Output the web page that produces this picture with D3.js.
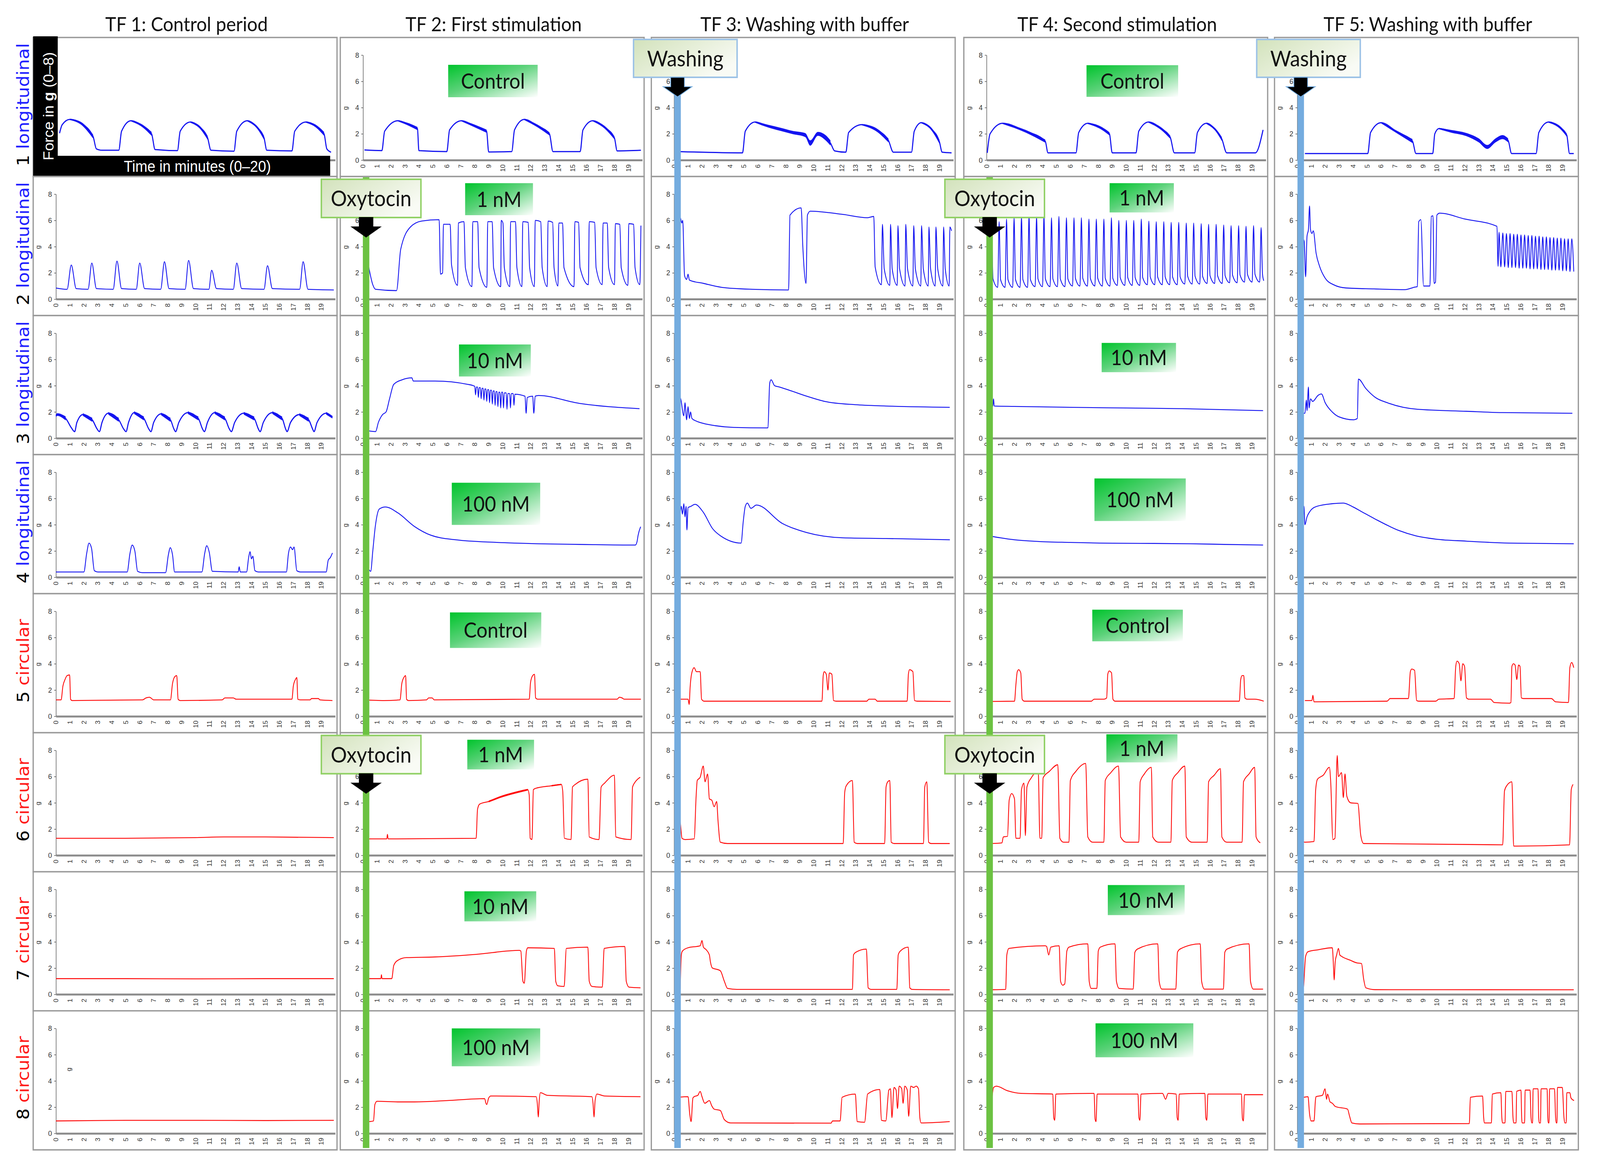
<!DOCTYPE html>
<html>
<head>
<meta charset="utf-8">
<script src="https://cdn.jsdelivr.net/npm/d3@7"></script>
<style>
  html, body { margin: 0; padding: 0; background: #fff; overflow: hidden; }
  .container { width: 100vw; height: 100vh; }
</style>
</head>
<body>
<div class="container"></div>
<script>
// ---- data ---------------------------------------------------------------
const columnTitles = ['TF 1: Control period', 'TF 2: First stimulation', 'TF 3: Washing with buffer',
  'TF 4: Second stimulation', 'TF 5: Washing with buffer']
const rowNumbers = ['1', '2', '3', '4', '5', '6', '7', '8']
const rowKinds = ['longitudinal', 'longitudinal', 'longitudinal', 'longitudinal',
  'circular', 'circular', 'circular', 'circular']
const doseLabels = ['Control', '1 nM', '10 nM', '100 nM', 'Control', '1 nM', '10 nM', '100 nM']
const yTicks = [0, 2, 4, 6, 8]
const xTicks = [0, 1, 2, 3, 4, 5, 6, 7, 8, 9, 10, 11, 12, 13, 14, 15, 16, 17, 18, 19]
// minute at which oxytocin is added (TF2, TF4) and washing starts (TF3, TF5)
const oxytocinTime = 0.22
const washingTime = 0.25

// traces: [minute, force in g, optional noise half-width]
const long1 = [
  [[0.26,2.05],[0.45,2.7],[1.0,3.1,0.05],[1.8,2.8,0.1],[2.66,1.8,0.15],[2.9,0.85],[3.3,0.75],[4.5,0.75],[4.7,2.2],[5.37,3.0,0.05],[6.2,2.6,0.1],[6.85,2.0,0.15],[7.1,0.8],[8.7,0.72],[8.9,2.2],[9.63,2.9,0.05],[10.3,2.5,0.1],[10.86,1.7,0.15],[11.1,0.75],[12.75,0.68],[12.95,2.2],[13.7,3.0,0.05],[14.4,2.5,0.1],[14.9,1.7,0.15],[15.1,0.75],[16.9,0.7],[17.1,2.2],[17.9,2.9,0.05],[18.6,2.6,0.1],[19.2,2.0,0.15],[19.4,0.85],[19.7,0.6]],
  [[0.1,0.77],[1.35,0.72],[1.55,2.2],[2.5,3.0,0.05],[3.3,2.7,0.1],[3.9,2.4,0.12],[4.0,0.72],[6.0,0.65],[6.2,2.3],[7.05,3.0,0.05],[8.0,2.6,0.1],[8.85,2.2,0.12],[9.0,0.62],[10.65,0.65],[10.85,2.3],[11.55,3.1,0.05],[12.5,2.6,0.1],[13.35,2.0,0.12],[13.6,0.65],[15.55,0.65],[15.75,2.3],[16.45,3.0,0.05],[17.3,2.5,0.1],[18.0,1.7,0.12],[18.2,0.7],[19.9,0.75]],
  [[0.36,0.65],[4.9,0.55],[5.1,2.2],[5.8,2.9,0.05],[6.7,2.6,0.1],[7.6,2.35,0.12],[8.5,2.1,0.12],[9.4,1.9,0.15],[9.75,1.3,0.2],[10.3,2.0,0.15],[10.85,1.7,0.2],[11.2,1.3,0.2],[11.5,0.7],[12.3,0.6],[12.5,2.1],[13.45,2.7,0.05],[14.5,2.3,0.12],[15.35,1.5,0.15],[15.7,0.6],[17.0,0.6],[17.2,2.2],[17.7,2.85,0.05],[18.4,2.4,0.1],[19.0,1.4,0.15],[19.2,0.6],[19.87,0.55]],
  [[0.05,0.55],[0.25,2.0],[1.15,2.8,0.05],[2.8,2.2,0.1],[4.2,1.45,0.12],[4.4,0.55],[6.4,0.55],[6.6,2.1],[7.25,2.8,0.05],[8.1,2.5,0.1],[8.8,2.0,0.12],[9.0,0.55],[10.7,0.55],[10.9,2.2],[11.6,2.9,0.05],[12.5,2.4,0.1],[13.15,1.75,0.12],[13.45,0.55],[14.9,0.55],[15.1,2.1],[15.75,2.8,0.05],[16.4,2.3,0.1],[16.85,1.6,0.15],[17.2,0.55],[19.25,0.55],[19.8,2.3]],
  [[0.55,0.5],[5.05,0.5],[5.25,2.1],[6.0,2.85,0.05],[7.2,2.1,0.1],[8.25,1.45,0.15],[8.5,0.5],[9.7,0.5],[9.85,2.0],[10.15,2.4,0.05],[11.0,2.2,0.1],[12.1,1.95,0.12],[13.0,1.5,0.15],[13.6,1.0,0.15],[14.2,1.5,0.15],[14.7,1.75,0.15],[15.1,1.5,0.15],[15.35,0.5],[17.1,0.5],[17.3,2.1],[18.0,2.9,0.05],[18.8,2.5,0.1],[19.3,1.9,0.12],[19.5,0.5],[19.8,0.5]]
]

const long2 = [
  [[0,0.85],[0.8,0.75],[1.1,2.6],[1.45,0.8],[2.3,0.75],[2.57,2.75],[2.9,0.8],[4.1,0.75],[4.37,2.9],[4.7,0.8],[5.75,0.75],[6.0,2.75],[6.35,0.8],[7.5,0.75],[7.77,2.85],[8.1,0.8],[9.25,0.75],[9.5,2.95],[9.85,0.8],[10.95,0.75],[11.15,2.2],[11.5,0.8],[12.7,0.75],[12.95,2.75],[13.3,0.8],[14.9,0.75],[15.15,2.55],[15.5,0.8],[17.45,0.75],[17.7,2.85],[18.05,0.75],[19.9,0.7]],
  [[0.4,2.5],[0.7,1.1],[0.9,0.75],[2.4,0.65],[2.7,3.8],[3.4,5.5],[4.2,5.95],[5.45,6.05],[5.55,1.9],
   [5.7,2.0],[5.76,5.7],[6.24,5.7],[6.34,2.6],[6.77,1.05],
   [6.83,5.8],[7.23,5.9],[7.33,2.4],[7.8,0.95],
   [7.86,5.9],[8.21,5.9],[8.31,2.4],[8.87,0.9],
   [8.93,5.9],[9.25,5.9],[9.35,2.4],[9.86,0.95],
   [9.9,6.0],[10.02,5.8],[10.12,2.4],[10.51,0.95],
   [10.57,5.9],[10.92,5.9],[11.02,2.4],[11.38,0.95],
   [11.44,5.9],[11.83,5.85],[11.93,2.4],[12.27,0.95],
   [12.33,6.0],[12.73,5.9],[12.83,2.4],[13.19,0.95],
   [13.25,5.95],[13.58,5.85],[13.68,2.4],[13.96,1.0],
   [14.02,5.8],[14.29,5.8],[14.39,2.4],[15.11,0.95],
   [15.17,5.9],[15.44,5.85],[15.54,2.4],[16.14,1.1],
   [16.2,5.9],[16.59,5.85],[16.69,2.4],[17.13,1.1],
   [17.19,5.8],[17.49,5.8],[17.59,2.4],[18.01,1.1],
   [18.07,5.75],[18.39,5.7],[18.49,2.4],[18.97,1.05],
   [19.03,5.75],[19.38,5.7],[19.48,2.4],[19.82,1.1],[19.9,5.6]],
  [[0.3,4.6],[0.45,6.2],[0.55,5.8],[0.62,6.0],[0.75,1.8],[0.9,1.5],[1.0,1.9],[1.1,1.45],[2.1,1.2],[3.4,0.9],[5.6,0.75],[8.2,0.7],[8.3,6.4],[9.1,6.95],[9.22,4.0],[9.45,1.2],[9.55,6.4],[9.75,6.7],[12.1,6.45],[13.85,6.2],[14.3,6.3],[14.4,2.45],
   [14.85,1.1],[14.92,5.7],[15.05,2.3],[15.45,1.05],[15.5,5.7],[15.62,2.3],[15.98,1.05],[16.03,5.6],[16.15,2.3],[16.54,1.0],[16.59,5.7],[16.72,2.3],[17.1,1.0],[17.16,5.6],[17.28,2.3],[17.67,1.0],[17.72,5.6],[17.85,2.3],[18.2,1.0],[18.25,5.5],[18.37,2.3],[18.7,1.0],[18.75,5.5],[18.88,2.3],[19.25,1.0],[19.3,5.5],[19.42,2.3],[19.7,1.0],[19.75,5.5],[19.87,5.2]],
  [[0.2,1.0],[0.26,0.95],[0.36,5.3],[0.46,1.55],[0.8,0.9],[0.9,5.9],[1.0,1.5],[1.33,0.9],[1.43,6.1],[1.53,1.5],[1.87,0.9],[1.97,6.2],[2.07,1.5],[2.4,0.9],[2.5,6.3],[2.6,1.5],[2.94,0.9],[3.04,6.4],[3.14,1.5],[3.48,0.95],[3.58,6.3],[3.68,1.55],[4.01,0.95],[4.11,6.4],[4.21,1.55],[4.55,0.95],[4.65,6.2],[4.75,1.55],[5.08,0.95],[5.18,6.3],[5.28,1.55],[5.62,0.95],[5.72,6.2],[5.82,1.55],[6.16,1.0],[6.26,6.2],[6.36,1.6],[6.69,1.0],[6.79,6.2],[6.89,1.6],[7.23,1.0],[7.33,6.1],[7.43,1.6],[7.76,1.0],[7.86,6.1],[7.96,1.6],[8.3,1.0],[8.4,6.1],[8.5,1.6],[8.84,1.0],[8.94,6.2],[9.04,1.6],[9.37,1.05],[9.47,6.0],[9.57,1.65],[9.91,1.05],[10.01,6.0],[10.11,1.65],[10.44,1.05],[10.54,6.0],[10.64,1.65],[10.98,1.05],[11.08,6.1],[11.18,1.65],[11.52,1.1],[11.62,5.95],[11.72,1.7],[12.05,1.1],[12.15,5.9],[12.25,1.7],[12.59,1.1],[12.69,5.9],[12.79,1.7],[13.12,1.1],[13.22,5.85],[13.32,1.7],[13.66,1.1],[13.76,5.85],[13.86,1.7],[14.2,1.15],[14.3,5.8],[14.4,1.75],[14.73,1.15],[14.83,5.8],[14.93,1.75],[15.27,1.15],[15.37,5.75],[15.47,1.75],[15.8,1.2],[15.9,5.7],[16.0,1.8],[16.34,1.2],[16.44,5.7],[16.54,1.8],[16.88,1.2],[16.98,5.65],[17.08,1.8],[17.41,1.25],[17.51,5.6],[17.61,1.85],[17.95,1.25],[18.05,5.6],[18.15,1.85],[18.48,1.3],[18.58,5.55],[18.68,1.9],[19.02,1.3],[19.12,5.6],[19.22,1.9],[19.56,1.3],[19.66,5.45],[19.76,1.9],[19.85,1.4]],
  [[0.3,2.2],[0.4,4.6],[0.5,4.4],[0.6,1.7],[0.7,4.8],[0.8,5.3],[0.88,7.1],[0.95,5.3],[1.05,5.0],[1.15,5.2],[1.35,3.5],[1.6,2.5],[2.0,1.6],[2.6,1.1],[3.5,0.85],[5.5,0.78],[7.7,0.72],[8.2,0.85],[8.35,0.9],[8.6,0.95],[8.7,5.9],[8.85,6.05],[9.05,1.0],[9.5,1.0],[9.6,6.3],[9.72,6.35],[9.8,1.2],[9.9,1.3],[10.0,6.4],[10.2,6.55],[12.0,6.1],[14.3,5.55],[14.38,2.5],
   [14.45,5.1],[14.58,2.45],[14.72,5.05],[14.85,2.45],[14.98,5.0],[15.11,2.4],[15.24,5.0],[15.37,2.4],[15.5,4.95],[15.63,2.4],[15.76,4.95],[15.89,2.35],[16.02,4.9],[16.15,2.35],[16.28,4.9],[16.41,2.35],[16.54,4.85],[16.67,2.3],[16.8,4.85],[16.93,2.3],[17.06,4.8],[17.19,2.3],[17.32,4.8],[17.45,2.25],[17.58,4.75],[17.71,2.25],[17.84,4.75],[17.97,2.25],[18.1,4.7],[18.23,2.2],[18.36,4.7],[18.49,2.2],[18.62,4.65],[18.75,2.2],[18.88,4.65],[19.01,2.15],[19.14,4.6],[19.27,2.15],[19.4,4.6],[19.53,2.1],[19.66,4.6],[19.8,2.1]]
]

const long3 = [
  [[0,1.7,0.1],[0.1,1.8,0.1],[0.7,1.5,0.15],[1.1,0.8],[1.34,0.5],[1.5,1.2],[1.93,1.8,0.1],[2.6,1.4,0.15],[2.95,0.7],[3.11,0.5],[3.3,1.2],[3.75,1.9,0.1],[4.5,1.4,0.15],[4.85,0.7],[5.02,0.5],[5.2,1.2],[5.6,1.95,0.1],[6.3,1.5,0.15],[6.65,0.7],[6.8,0.5],[7.0,1.2],[7.53,1.85,0.1],[8.2,1.4,0.15],[8.45,0.7],[8.57,0.5],[8.8,1.2],[9.45,1.95,0.1],[10.2,1.5,0.15],[10.5,0.7],[10.63,0.5],[10.85,1.2],[11.37,1.95,0.1],[12.1,1.5,0.15],[12.42,0.7],[12.56,0.5],[12.8,1.2],[13.45,1.9,0.1],[14.2,1.5,0.15],[14.5,0.7],[14.62,0.5],[14.85,1.2],[15.5,1.95,0.1],[16.2,1.5,0.15],[16.45,0.7],[16.55,0.5],[16.8,1.2],[17.43,1.8,0.1],[18.1,1.4,0.15],[18.38,0.7],[18.48,0.5],[18.7,1.2],[19.35,1.9,0.1],[19.8,1.6,0.1]],
  [[0.44,0.55],[0.9,0.5],[1.1,1.2],[1.4,1.8],[1.65,2.0],[1.9,3.0],[2.2,4.1],[2.8,4.45],[3.5,4.6],[3.6,4.35],[5.15,4.35],[7.5,4.1],[7.9,4.0],
   [8.0,3.95],[8.06,3.3],[8.12,3.9],[8.2,3.9],[8.26,3.1],[8.32,3.85],[8.4,3.85],[8.46,3.0],[8.52,3.8],[8.6,3.8],[8.66,2.9],[8.72,3.75],[8.8,3.75],[8.86,2.8],[8.92,3.7],[9.0,3.7],[9.06,2.7],[9.12,3.65],[9.2,3.65],[9.26,2.6],[9.32,3.6],[9.4,3.6],[9.46,2.5],[9.52,3.55],[9.6,3.55],[9.66,2.4],[9.72,3.5],[9.8,3.5],[9.86,2.3],[9.92,3.5],[10.0,3.5],[10.06,2.3],[10.12,3.45],[10.25,3.45],[10.31,2.2],[10.37,3.4],[10.5,3.4],[10.56,2.3],[10.62,3.4],[10.75,3.4],[10.81,2.5],[10.87,3.35],
   [11.6,3.2],[11.68,1.9],[11.76,3.1],[12.15,3.2],[12.23,1.9],[12.33,3.2],[12.56,3.25],[15.5,2.65],[19.8,2.25]],
  [[0.3,3.0],[0.44,3.07],[0.7,1.7],[0.78,2.7],[0.9,1.4],[1.0,2.4],[1.1,1.5],[1.18,2.0],[1.28,1.5],[1.6,1.3],[2.08,1.13],[2.96,0.95],[4.27,0.82],[6.67,0.78],[6.72,0.8],[6.85,4.2],[6.95,4.45],[7.2,4.0],[7.54,3.9],[8.4,3.6],[9.5,3.2],[10.8,2.8],[12.97,2.55],[15.16,2.45],[19.74,2.35]],
  [[0.2,2.4],[0.45,2.45],[0.5,3.0],[0.55,2.45],[2,2.42],[6,2.35],[10,2.3],[14,2.25],[19.8,2.1]],
  [[0.35,1.9],[0.55,1.9],[0.65,2.9],[0.7,2.1],[0.8,3.9],[0.85,2.3],[0.95,3.0],[1.1,2.8],[1.5,3.27],[1.73,3.37],[2.0,2.7],[2.5,2.0],[2.96,1.64],[4.05,1.4],[4.3,1.5],[4.38,4.5],[4.9,3.8],[5.6,3.1],[6.45,2.7],[8.6,2.2],[12.1,2.05],[14.7,1.95],[19.7,1.9]]
]

const long4 = [
  [[0,0.4],[2.0,0.4],[2.2,1.8],[2.37,2.6],[2.55,2.2],[2.75,0.5],[3.0,0.4],[5.1,0.4],[5.3,1.8],[5.46,2.45],[5.65,2.0],[5.85,0.45],[6.2,0.35],[7.85,0.35],[8.05,1.7],[8.19,2.25],[8.35,1.7],[8.5,0.4],[10.45,0.4],[10.65,1.8],[10.8,2.4],[10.98,1.9],[11.2,0.45],[13.05,0.4],[13.12,0.8],[13.2,0.4],[13.65,0.4],[13.8,1.5],[13.9,1.95],[14.0,1.4],[14.1,1.6],[14.25,0.5],[14.5,0.4],[16.5,0.4],[16.65,1.8],[16.8,2.3],[16.95,2.1],[17.05,2.3],[17.25,0.5],[17.5,0.4],[19.35,0.4],[19.5,1.3],[19.65,1.5],[19.8,1.85]],
  [[0.44,0.57],[0.55,0.45],[0.7,2.0],[0.88,3.87],[1.17,5.2],[1.6,5.35],[2.5,4.9],[3.68,3.87],[4.86,3.2],[6.64,2.85],[9.6,2.65],[12.56,2.55],[15.5,2.5],[19.5,2.45],[19.62,2.7],[19.7,3.2],[19.88,3.85]],
  [[0.3,4.8],[0.44,4.97],[0.52,5.4],[0.6,4.8],[0.7,5.6],[0.78,4.6],[0.86,5.4],[0.92,3.6],[1.0,5.3],[1.2,5.4],[1.5,5.55],[2.08,4.97],[2.76,3.7],[3.4,3.1],[4.8,2.6],[4.95,4.2],[5.1,5.4],[5.25,5.65],[5.5,5.25],[5.9,5.5],[7.75,4.1],[9.5,3.4],[12.1,3.0],[15.2,2.95],[19.75,2.85]],
  [[0.2,3.15],[1,3.0],[2,2.85],[3.75,2.72],[6,2.65],[8.1,2.6],[11,2.58],[14.65,2.55],[17,2.5],[19.8,2.45]],
  [[0.3,3.4],[0.4,3.55],[0.48,5.4],[0.55,4.0],[0.7,4.6],[0.9,5.0],[1.4,5.4],[2.5,5.6],[3.3,5.65],[4.0,5.35],[4.6,5.0],[5.55,4.45],[7.3,3.55],[8.5,3.15],[9.95,2.9],[12.1,2.75],[15.15,2.6],[19.8,2.55]]
]

const circ5 = [
  [[0,1.25],[0.37,1.25],[0.5,2.3],[0.65,2.8],[0.8,3.1],[0.98,3.15],[1.05,1.3],[1.15,1.2],[6.2,1.25],[6.45,1.4],[6.7,1.45],[7.0,1.25],[8.2,1.25],[8.35,2.5],[8.5,3.0],[8.65,3.1],[8.75,1.3],[8.9,1.2],[11.9,1.25],[12.1,1.4],[12.7,1.4],[12.9,1.3],[16.9,1.3],[17.0,2.3],[17.15,2.8],[17.25,2.95],[17.32,1.3],[17.5,1.25],[18.2,1.25],[18.3,1.35],[18.8,1.35],[18.9,1.25],[19.8,1.2]],
  [[0.08,1.25],[1.5,1.2],[2.65,1.25],[2.78,2.5],[2.95,3.0],[3.05,3.1],[3.12,1.3],[3.25,1.2],[4.55,1.25],[4.7,1.4],[4.95,1.4],[5.1,1.25],[11.9,1.3],[12.0,2.6],[12.15,3.1],[12.28,3.2],[12.36,1.4],[12.5,1.3],[18.2,1.3],[18.35,1.45],[18.55,1.4],[18.7,1.3],[19.9,1.3]],
  [[0.3,1.3],[1.0,1.3],[1.08,0.9],[1.15,2.2],[1.25,3.2],[1.44,3.7],[1.6,3.4],[1.87,3.4],[1.97,1.3],[2.15,1.15],[10.59,1.15],[10.68,3.1],[10.75,3.4],[10.9,3.2],[11.02,2.0],[11.12,3.3],[11.3,3.2],[11.42,1.2],[11.6,1.15],[13.8,1.15],[13.95,1.3],[14.4,1.3],[14.55,1.15],[16.69,1.15],[16.78,3.2],[16.86,3.55],[17.1,3.4],[17.22,1.2],[17.4,1.15],[19.8,1.13]],
  [[0.05,1.13],[2.0,1.15],[2.1,2.4],[2.2,3.4],[2.3,3.55],[2.45,3.3],[2.55,1.3],[2.7,1.15],[7.5,1.15],[7.7,1.3],[8.4,1.3],[8.6,1.4],[8.68,3.2],[8.78,3.45],[8.95,3.3],[9.05,1.3],[9.2,1.15],[18.1,1.15],[18.2,2.8],[18.3,3.1],[18.42,3.1],[18.5,1.4],[18.65,1.3],[19.2,1.3],[19.85,1.15]],
  [[0.55,1.2],[1.05,1.2],[1.12,1.6],[1.2,1.1],[6.43,1.15],[6.65,1.35],[7.96,1.35],[8.1,3.4],[8.2,3.6],[8.4,3.5],[8.55,1.2],[8.7,1.15],[9.92,1.15],[10.14,1.3],[11.23,1.35],[11.35,3.8],[11.44,4.2],[11.6,4.0],[11.72,2.7],[11.85,4.0],[11.98,3.8],[12.12,1.4],[12.3,1.3],[13.84,1.3],[14.1,1.05],[15.2,1.0],[15.3,1.05],[15.37,3.8],[15.48,4.0],[15.6,3.9],[15.72,2.8],[15.85,3.9],[15.95,3.8],[16.05,1.4],[16.2,1.35],[18.2,1.35],[18.5,1.1],[19.42,1.05],[19.52,3.7],[19.65,4.1],[19.8,3.7]]
]

const circ6 = [
  [[0,1.3],[5,1.3],[10,1.35],[12,1.4],[15,1.4],[19.9,1.35]],
  [[0.38,1.25],[1.7,1.25],[1.75,1.6],[1.8,1.25],[8.1,1.3],[8.2,3.5],[8.35,3.9],[9.0,4.1,0.06],[10.0,4.5,0.07],[11.0,4.8,0.07],[11.8,5.0,0.06],[11.9,4.6],[11.97,1.3],[12.1,1.2],[12.2,5.0],[12.35,5.1],[13.5,5.3,0.05],[14.2,5.4,0.05],[14.3,4.9],[14.42,1.3],[14.9,1.2],[15.0,5.2],[15.2,5.4],[16.1,5.8],[16.2,1.4],[16.9,1.2],[17.05,5.2],[17.3,5.5],[18.0,6.1],[18.1,1.4],[19.2,1.2],[19.3,5.2],[19.5,5.6],[19.85,5.95]],
  [[0.3,2.8],[0.44,2.5],[0.57,1.3],[0.78,1.2],[1.44,1.25],[1.58,4.5],[1.66,5.7],[1.87,5.95],[2.09,6.8],[2.22,5.6],[2.4,6.2],[2.53,4.3],[2.7,4.2],[2.87,3.7],[3.05,4.1],[3.15,2.6],[3.31,1.0],[3.83,0.9],[12.11,0.9],[12.22,4.8],[12.33,5.3],[12.77,5.7],[12.9,1.0],[13.1,0.9],[15.08,0.9],[15.18,5.2],[15.3,5.6],[15.45,5.7],[15.55,1.0],[15.75,0.9],[17.86,0.9],[17.95,5.2],[18.1,5.6],[18.23,1.0],[18.4,0.9],[19.74,0.9]],
  [[0.3,0.9],[1.1,0.95],[1.2,1.4],[1.5,1.45],[1.62,4.2],[1.8,4.7],[2.0,4.3],[2.1,1.3],[2.4,1.3],[2.5,5.0],[2.68,5.5],[2.78,1.5],[2.89,5.2],[3.2,5.9],[3.7,6.4],[3.82,1.3],[3.95,1.3],[4.05,5.9],[4.5,6.4],[5.1,6.9],[5.25,1.3],[5.5,1.0],[5.9,1.0],[6.0,5.7],[6.4,6.4],[7.1,7.0],[7.25,1.4],[7.6,1.0],[8.4,1.0],[8.5,5.7],[8.9,6.3],[9.45,6.8],[9.6,1.4],[10.0,1.0],[10.9,1.0],[11.0,5.6],[11.3,6.2],[11.8,6.7],[11.9,1.4],[12.3,1.0],[13.2,1.0],[13.3,5.7],[13.7,6.3],[14.2,6.8],[14.3,1.4],[14.7,1.0],[15.8,1.0],[15.9,5.6],[16.3,6.1],[16.75,6.6],[16.85,1.4],[17.2,1.0],[18.3,1.0],[18.4,5.6],[18.8,6.2],[19.2,6.7],[19.3,1.4],[19.6,0.95]],
  [[0.05,2.6],[0.25,1.1],[0.55,1.0],[1.2,1.05],[1.32,5.0],[1.45,5.8],[1.86,6.1],[2.3,6.7],[2.4,5.5],[2.55,1.2],[2.7,1.3],[2.86,7.6],[2.95,6.0],[3.17,6.3],[3.3,4.4],[3.42,6.2],[3.55,4.5],[3.82,4.0],[4.34,3.95],[4.55,1.5],[4.75,0.9],[14.71,0.8],[14.84,4.9],[15.0,5.3],[15.37,5.6],[15.5,0.7],[15.7,0.7],[19.5,0.8],[19.62,5.0],[19.75,5.4]]
]

const circ7 = [
  [[0,1.2],[5,1.2],[10,1.18],[15,1.2],[19.9,1.2]],
  [[0.37,1.2],[1.28,1.2],[1.32,1.5],[1.36,1.2],[2.06,1.2],[2.2,2.2],[2.5,2.6],[3.1,2.8],[5.16,2.85],[8.1,3.05],[11.2,3.35],[11.3,3.3],[11.45,1.0],[11.55,0.85],[11.7,3.3],[11.8,3.55],[13.7,3.5],[13.8,1.0],[13.95,0.65],[14.4,0.6],[14.56,3.5],[16.1,3.6],[16.2,1.0],[16.4,0.6],[17.13,0.55],[17.27,3.5],[18.75,3.65],[18.85,1.0],[19.05,0.55],[19.87,0.5]],
  [[0.44,0.4],[0.52,3.0],[0.6,3.3],[1.0,3.55],[1.87,3.7],[2.0,4.1],[2.1,3.6],[2.3,3.4],[2.53,3.0],[2.6,2.5],[2.75,2.0],[2.9,1.95],[3.31,1.8],[3.6,1.0],[3.83,0.45],[4.5,0.38],[12.77,0.38],[12.85,3.0],[13.0,3.2],[13.77,3.45],[13.9,0.5],[14.1,0.38],[15.95,0.38],[16.05,3.0],[16.2,3.3],[16.77,3.6],[16.88,0.5],[17.05,0.38],[19.74,0.35]],
  [[0.28,0.35],[1.37,0.38],[1.45,3.0],[1.6,3.5],[4.2,3.7],[4.3,3.65],[4.45,3.0],[4.6,3.6],[5.2,3.7],[5.3,1.0],[5.45,0.7],[5.6,0.8],[5.75,3.3],[5.9,3.6],[7.25,3.85],[7.35,1.0],[7.5,0.45],[7.9,0.45],[8.0,3.3],[8.15,3.6],[9.2,3.85],[9.3,1.0],[9.5,0.45],[10.5,0.4],[10.62,3.2],[10.8,3.45],[12.26,3.85],[12.36,1.0],[12.55,0.4],[13.55,0.4],[13.67,3.2],[13.85,3.45],[15.3,3.85],[15.4,1.0],[15.6,0.4],[16.96,0.4],[17.06,3.2],[17.22,3.45],[18.8,3.85],[18.9,1.0],[19.1,0.4],[19.8,0.4]],
  [[0.3,0.4],[0.42,0.38],[0.6,2.9],[0.77,3.25],[1.5,3.4],[2.51,3.55],[2.6,2.0],[2.64,1.1],[2.72,2.5],[2.82,3.0],[2.95,3.5],[3.05,3.0],[3.17,2.9],[3.8,2.6],[4.26,2.4],[4.6,2.35],[4.75,1.2],[4.91,0.5],[5.56,0.36],[19.8,0.35]]
]

const circ8 = [
  [[0,0.95],[5,1.0],[10,1.0],[15,0.98],[19.9,1.0]],
  [[0.43,0.9],[0.75,0.95],[0.85,2.2],[1.0,2.45],[2.5,2.4],[3.7,2.4],[6.0,2.5],[8.71,2.65],[8.8,2.3],[8.86,2.2],[9.0,2.7],[9.15,2.85],[12.4,2.8],[12.48,2.3],[12.55,1.25],[12.62,2.5],[12.7,3.1],[13.2,2.9],[16.39,2.8],[16.47,2.3],[16.54,1.25],[16.62,2.5],[16.75,3.0],[17.3,2.85],[19.87,2.8]],
  [[0.3,2.7],[0.44,2.77],[1.0,2.8],[1.12,1.5],[1.22,0.9],[1.35,2.7],[1.44,2.8],[1.7,2.9],[1.87,3.2],[2.0,2.8],[2.2,2.3],[2.53,2.5],[2.7,2.1],[2.87,1.85],[3.31,1.75],[3.6,1.05],[4.05,0.8],[11.24,0.78],[11.35,0.95],[11.89,0.95],[12.03,2.75],[12.98,3.0],[13.11,0.9],[13.64,0.85],[13.86,3.0],[14.73,3.35],[14.85,1.0],[15.16,0.95],[15.38,3.3],[15.5,3.4],[15.6,1.2],[15.75,3.5],[15.9,3.3],[16.0,1.9],[16.12,3.6],[16.3,3.4],[16.4,2.3],[16.52,3.6],[16.7,3.3],[16.8,1.3],[16.95,3.6],[17.15,3.5],[17.34,3.6],[17.5,3.4],[17.6,1.2],[17.69,0.8],[18.5,0.82],[19.74,0.9]],
  [[0.28,1.3],[0.4,2.8],[0.5,3.5],[0.7,3.6],[1.5,3.25],[2.46,3.05],[4.74,3.0],[4.81,1.2],[4.88,1.0],[4.96,3.0],[7.7,3.05],[7.77,1.1],[7.84,0.9],[7.92,3.0],[10.84,3.0],[10.91,1.2],[10.98,1.0],[11.06,3.0],[12.6,3.05],[12.82,2.6],[13.0,3.05],[13.58,3.0],[13.65,1.2],[13.72,1.0],[13.8,3.0],[15.63,3.05],[15.7,1.2],[15.77,1.0],[15.85,3.0],[18.25,3.0],[18.32,1.15],[18.39,0.95],[18.47,2.95],[19.8,2.95]],
  [[0.3,2.75],[0.42,2.75],[0.77,2.8],[0.88,1.5],[0.99,0.95],[1.2,0.95],[1.3,2.5],[1.34,2.8],[1.8,2.9],[1.99,3.4],[2.1,2.6],[2.17,3.0],[2.35,2.4],[2.51,2.3],[2.73,2.05],[3.6,1.85],[3.75,1.3],[3.91,0.8],[4.48,0.72],[12.32,0.75],[12.4,2.75],[13.27,2.85],[13.35,1.2],[13.4,0.8],[13.9,0.8],[13.97,3.0],[14.58,3.1],[14.65,1.2],[14.7,0.8],[14.88,0.8],[14.93,3.2],[15.37,3.2],[15.45,1.2],[15.5,0.8],[15.67,0.8],[15.71,3.2],[16.02,3.3],[16.07,1.2],[16.1,0.8],[16.28,0.8],[16.32,3.3],[16.67,3.3],[16.74,1.2],[16.8,0.8],[16.85,0.8],[16.89,3.4],[17.24,3.4],[17.29,1.2],[17.33,0.8],[17.42,0.8],[17.46,3.4],[17.89,3.4],[17.94,1.2],[17.98,0.8],[18.03,0.8],[18.07,3.4],[18.42,3.4],[18.5,1.2],[18.55,0.8],[18.6,0.8],[18.63,3.5],[18.98,3.5],[19.1,1.2],[19.16,0.8],[19.26,0.8],[19.3,3.1],[19.52,3.1],[19.6,2.7],[19.82,2.5]]
]

const rows = [long1, long2, long3, long4, circ5, circ6, circ7, circ8]

// ---- layout -------------------------------------------------------------
const W = 4434
const H = 2981
const colLeft = [92, 943, 1805, 2671, 3532]
const panelW = 842
const rowTop0 = 96
const rowH = 356.1
const blue = '#1414f0'
const red = '#ff0a0a'
const tickFont = '"Liberation Sans Narrow", "Liberation Sans", Arial, sans-serif'
const noteFont = 'Lato, "Open Sans", sans-serif'

// dose tag boxes relative to panel: [dx, dy, w, h]
const doseBoxTF2 = [[299,70,248,83],[346,17,188,82],[329,74,199,82],[309,72,245,108],
  [304,48,253,91],[352,18,185,76],[344,50,199,77],[309,45,245,97]]
const doseBoxTF4 = [[340,71,254,81],[404,17,178,75],[382,70,206,75],[362,61,253,109],
  [356,41,251,81],[395,4,197,72],[399,34,213,77],[365,32,271,87]]

// the svg scales with the window so the whole figure is always in view
const svg = d3.select('.container')
  .append('svg')
  .attr('width', '100%')
  .attr('height', '100%')
  .attr('viewBox', `0 0 ${W} ${H}`)
  .attr('preserveAspectRatio', 'none')
  .style('display', 'block')

svg.append('rect').attr('width', W).attr('height', H).attr('fill', '#fff')

const defs = svg.append('defs')
const doseGrad = defs.append('linearGradient').attr('id', 'doseGrad')
  .attr('x1', '0%').attr('y1', '0%').attr('x2', '100%').attr('y2', '100%')
doseGrad.append('stop').attr('offset', '0%').attr('stop-color', '#00c42c')
doseGrad.append('stop').attr('offset', '45%').attr('stop-color', '#5cd27a')
doseGrad.append('stop').attr('offset', '100%').attr('stop-color', '#ffffff')

const noteGrad = defs.append('linearGradient').attr('id', 'noteGrad')
  .attr('x1', '0%').attr('y1', '0%').attr('x2', '100%').attr('y2', '60%')
noteGrad.append('stop').attr('offset', '0%').attr('stop-color', '#d2e2bb')
noteGrad.append('stop').attr('offset', '100%').attr('stop-color', '#f9fbf5')

function xScale(c) {
  const left = colLeft[c]
  return d3.scaleLinear().domain([0, 20]).range([left + 63, left + 837])
}

function yScale(r) {
  const top = rowTop0 + r * rowH
  return d3.scaleLinear().domain([0, 8]).range([top + 314, top + 45])
}

// ---- panels -------------------------------------------------------------
rows.forEach((series, r) => {
  const top = rowTop0 + r * rowH
  const color = r < 4 ? blue : red
  series.forEach((trace, c) => {
    const left = colLeft[c]
    const x = xScale(c)
    const y = yScale(r)
    const g = svg.append('g')

    g.append('rect')
      .attr('x', left).attr('y', top)
      .attr('width', panelW).attr('height', rowH)
      .attr('fill', '#fff')
      .attr('stroke', '#9a9a9a')
      .attr('stroke-width', 3.5)

    const ya = g.append('g')
      .attr('transform', `translate(${left + 63},0)`)
      .call(d3.axisLeft(y).tickValues(yTicks).tickSize(5).tickSizeOuter(0).tickPadding(6))
    ya.select('.domain').attr('stroke', '#555').attr('stroke-width', 1.5)
    ya.selectAll('.tick line').attr('stroke', '#555').attr('stroke-width', 1.5)
    ya.selectAll('.tick text')
      .attr('font-size', 19)
      .attr('font-family', tickFont)
      .attr('fill', '#333')

    const xa = g.append('g')
      .attr('transform', `translate(0,${top + 314})`)
      .call(d3.axisBottom(x).tickValues(xTicks).tickSize(0).tickSizeOuter(0))
    xa.select('.domain').attr('stroke', '#8c8c8c').attr('stroke-width', 5)
    xa.selectAll('.tick text')
      .attr('y', 0)
      .attr('x', -11)
      .attr('dy', '0.35em')
      .attr('transform', 'rotate(-90)')
      .attr('text-anchor', 'end')
      .attr('font-size', 17)
      .attr('font-family', tickFont)
      .attr('fill', '#333')

    // the stray axis title of the last control panel sits inside the plot
    const stray = r === 7 && c === 0
    g.append('text')
      .attr('transform', `translate(${left + (stray ? 105 : 20)},${top + (stray ? 150 : 181)}) rotate(-90)`)
      .attr('text-anchor', 'middle')
      .attr('font-size', 17)
      .attr('font-family', tickFont)
      .attr('fill', '#333')
      .text('g')

    const band = d3.area()
      .defined((d) => d.length > 2)
      .x((d) => x(d[0]))
      .y0((d) => y(d[1] - d[2]))
      .y1((d) => y(d[1] + d[2]))
      .curve(d3.curveMonotoneX)

    g.append('path')
      .attr('d', band(trace))
      .attr('fill', color)
      .attr('stroke', 'none')

    const line = d3.line()
      .x((d) => x(d[0]))
      .y((d) => y(d[1]))
      .curve(d3.curveMonotoneX)

    g.append('path')
      .attr('d', line(trace))
      .attr('fill', 'none')
      .attr('stroke', color)
      .attr('stroke-width', r === 0 || (r === 2 && c === 0) ? 3 : 2.3)
      .attr('stroke-linejoin', 'round')
  })
})

// ---- dose tags ------------------------------------------------------------
function doseTag(c, r, box) {
  const left = colLeft[c] + box[0]
  const top = rowTop0 + r * rowH + box[1]
  svg.append('rect')
    .attr('x', left).attr('y', top)
    .attr('width', box[2]).attr('height', box[3])
    .attr('fill', 'url(#doseGrad)')
  svg.append('text')
    .attr('x', left + box[2] / 2)
    .attr('y', top + box[3] / 2)
    .attr('dy', '0.36em')
    .attr('text-anchor', 'middle')
    .attr('font-size', 54)
    .attr('font-family', noteFont)
    .attr('fill', '#111')
    .text(doseLabels[r])
}
doseLabels.forEach((d, r) => {
  doseTag(1, r, doseBoxTF2[r])
  doseTag(3, r, doseBoxTF4[r])
})

// ---- event markers --------------------------------------------------------
function eventLine(c, t, color, y0) {
  const cx = xScale(c)(t)
  svg.append('rect')
    .attr('x', cx - 9).attr('y', y0)
    .attr('width', 18).attr('height', 2940 - y0)
    .attr('fill', color)
  return cx
}

function arrow(cx, y0, outline) {
  const tip = y0 + 50
  const pts = [[cx - 19, y0], [cx + 19, y0], [cx + 19, tip - 26], [cx + 40, tip - 26],
    [cx, tip], [cx - 40, tip - 26], [cx - 19, tip - 26]]
  svg.append('path')
    .attr('d', 'M' + pts.map((p) => p.join(',')).join('L') + 'Z')
    .attr('fill', '#000')
    .attr('stroke', outline)
    .attr('stroke-width', 2)
}

function callout(cx, dx, top, w, h, label, border) {
  svg.append('rect')
    .attr('x', cx + dx).attr('y', top)
    .attr('width', w).attr('height', h)
    .attr('fill', 'url(#noteGrad)')
    .attr('stroke', border)
    .attr('stroke-width', 4)
  svg.append('text')
    .attr('x', cx + dx + w / 2)
    .attr('y', top + h / 2)
    .attr('dy', '0.36em')
    .attr('text-anchor', 'middle')
    .attr('font-size', 56)
    .attr('font-family', noteFont)
    .attr('fill', '#111')
    .text(label)
}

const green = '#6cc242'
const washBlue = '#74acdf'

// washing: TF3 and TF5, from the first row downwards
;[2, 4].forEach((c) => {
  const top = rowTop0 + 5
  const cx = eventLine(c, washingTime, washBlue, top + 90)
  callout(cx, -122, top, 287, 97, 'Washing', '#9cc2e6')
  arrow(cx, top + 97, washBlue)
})

// oxytocin: TF2 and TF4, from the second row downwards
;[1, 3].forEach((c) => {
  const cx = eventLine(c, oxytocinTime, green, rowTop0 + rowH + 2)
  ;[1, 5].forEach((r) => {
    const top = rowTop0 + r * rowH + 7
    callout(cx, -124, top, 276, 98, 'Oxytocin', '#8fd063')
    arrow(cx, top + 98, '#000')
  })
})

// ---- axis legend drawn over the first control panel -------------------------
svg.append('rect').attr('x', 92).attr('y', 93).attr('width', 68).attr('height', 357).attr('fill', '#000')
svg.append('rect').attr('x', 92).attr('y', 399).attr('width', 823).attr('height', 51).attr('fill', '#000')

const forceLabel = svg.append('text')
  .attr('transform', 'translate(148,272) rotate(-90)')
  .attr('text-anchor', 'middle')
  .attr('font-size', 39)
  .attr('font-family', '"Liberation Sans", Arial, sans-serif')
  .attr('fill', '#fff')
forceLabel.append('tspan').text('Force in ')
forceLabel.append('tspan').attr('font-weight', 'bold').text('g')
forceLabel.append('tspan').text(' (0\u20138)')

svg.append('text')
  .attr('x', 547).attr('y', 440)
  .attr('text-anchor', 'middle')
  .attr('font-size', 40)
  .attr('font-family', '"Liberation Sans", Arial, sans-serif')
  .attr('fill', '#fff')
  .text('Time in minutes (0\u201320)')

// ---- column titles and row labels --------------------------------------------
columnTitles.forEach((t, c) => {
  svg.append('text')
    .attr('x', colLeft[c] + panelW / 2 + 4)
    .attr('y', 80)
    .attr('text-anchor', 'middle')
    .attr('font-size', 51)
    .attr('font-family', 'Lato, "Open Sans", sans-serif')
    .attr('fill', '#111')
    .text(t)
})

rowNumbers.forEach((n, r) => {
  const cy = rowTop0 + r * rowH + rowH / 2 - 6
  const label = svg.append('text')
    .attr('transform', `translate(80,${cy}) rotate(-90)`)
    .attr('text-anchor', 'middle')
    .attr('font-size', 46)
    .attr('font-family', '"DejaVu Sans", sans-serif')
  label.append('tspan').attr('fill', '#000').text(n + ' ')
  label.append('tspan').attr('fill', r < 4 ? '#2020ff' : '#ff1a1a').text(rowKinds[r])
})
</script>
</body>
</html>
